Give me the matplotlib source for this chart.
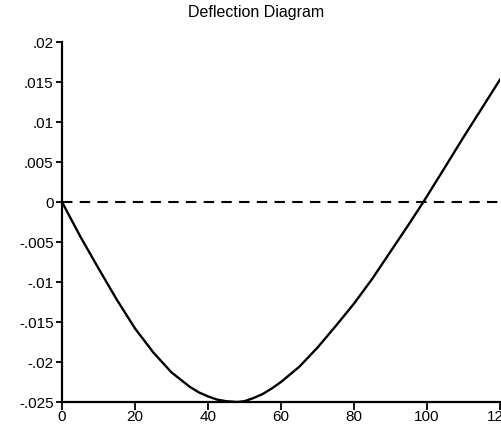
import matplotlib
matplotlib.use("Agg")
import matplotlib.pyplot as plt

# ----------------------------
# Data
# ----------------------------
position = [0, 5, 10, 15, 20, 25, 30, 35, 37.5, 40, 42.5, 45, 48, 50, 52.5,
            55, 57.5, 60, 65, 70, 75, 80, 85, 90, 95, 99, 105, 110, 115, 120]
deflection = [0.0, -0.0043, -0.0083, -0.0122, -0.0158, -0.0188, -0.0213,
              -0.0231, -0.0238, -0.0243, -0.0247, -0.0249, -0.0250, -0.0249,
              -0.0245, -0.0240, -0.0233, -0.0225, -0.0206, -0.0182, -0.0155,
              -0.0127, -0.0096, -0.0062, -0.0028, 0.0, 0.0044, 0.0081,
              0.0117, 0.0153]

x_ticks = [0, 20, 40, 60, 80, 100, 120]
y_ticks = [0.02, 0.015, 0.01, 0.005, 0, -0.005, -0.01, -0.015, -0.02, -0.025]
y_labels = [".02", ".015", ".01", ".005", "0", "-.005", "-.01", "-.015", "-.02", "-.025"]

plt.rcParams["font.family"] = ["Liberation Sans", "DejaVu Sans"]

fig = plt.figure(figsize=(5.02, 4.28), dpi=100)
ax = fig.add_axes([62 / 502, 1 - 402 / 428, 438 / 502, 360 / 428])

ax.plot(position, deflection, color="black", lw=1.7, solid_joinstyle="round")
ax.plot([x_ticks[0], x_ticks[-1]], [0, 0], color="black", lw=1.5,
        dashes=(5, 3.5))

ax.set_xlim(0, 120)
ax.set_ylim(-0.025, 0.02)
ax.set_xticks(x_ticks)
ax.set_xticklabels([str(v) for v in x_ticks])
ax.set_yticks(y_ticks)
ax.set_yticklabels(y_labels)

for side in ["top", "right"]:
    ax.spines[side].set_visible(False)
for side in ["left", "bottom"]:
    ax.spines[side].set_linewidth(1.6)
    ax.spines[side].set_clip_on(False)

ax.tick_params(axis="y", length=4, width=1.3, pad=2, labelsize=11)
ax.tick_params(axis="x", length=6, width=1.3, pad=0, labelsize=11)

fig.text(256 / 502, 1 - 13 / 428, "Deflection Diagram", ha="center",
         va="center", fontsize=11.5)

fig.savefig("out.png", dpi=100)
plt.close(fig)
